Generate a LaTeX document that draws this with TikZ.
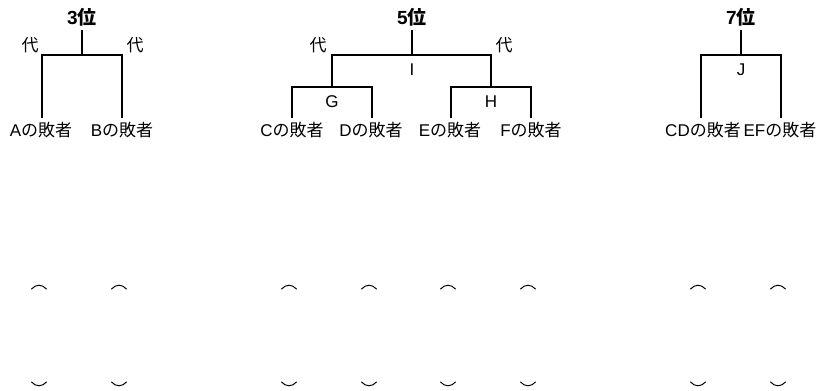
\documentclass[tikz,border=0pt]{standalone}
\usepackage{fontspec}
\setmainfont{Noto Sans CJK JP}
\newfontfamily\lat{Liberation Sans}
\newcommand{\fs}{\fontsize{17}{20}\selectfont}
\newcommand{\fst}{\fontsize{19}{22}\selectfont}
\begin{document}
\begin{tikzpicture}[x=1pt,y=-1pt,
  br/.style={line width=2pt},
  lab/.style={font=\fs, inner sep=0pt},
  ttl/.style={font=\fst\bfseries, inner sep=0pt},
  arcst/.style={line width=1pt, line cap=round}]
\useasboundingbox (0,0) rectangle (817,391);
% ---------- 3位 ----------
\node[ttl] (t3) at (82,17) {{\lat\bfseries 3}位};
\node[lab] (d3l) at (30,45) {代};
\node[lab] (d3r) at (135,45) {代};
\node[lab] (la) at (41,130) {{\lat A}の敗者};
\node[lab] (lb) at (122,130) {{\lat B}の敗者};
\coordinate (s3) at (82,30);
\coordinate (j3) at (82,55);
\coordinate (ea) at (42,118);
\coordinate (eb) at (122,118);
\draw[br] (s3) -- (j3);
\draw[br] (ea) |- (j3) -| (eb);
% ---------- 5位 ----------
\node[ttl] (t5) at (412,17) {{\lat\bfseries 5}位};
\node[lab] (d5l) at (318,45) {代};
\node[lab] (d5r) at (504,45) {代};
\node[lab] (nI) at (412,70) {\lat I};
\node[lab] (nG) at (332,102) {\lat G};
\node[lab] (nH) at (491,102) {\lat H};
\node[lab] (lc) at (292,130) {{\lat C}の敗者};
\node[lab] (ld) at (371,130) {{\lat D}の敗者};
\node[lab] (le) at (450,130) {{\lat E}の敗者};
\node[lab] (lf) at (531,130) {{\lat F}の敗者};
\coordinate (s5) at (412,30);
\coordinate (j5) at (412,55);
\coordinate (jg) at (332,87);
\coordinate (jh) at (491,87);
\coordinate (ec) at (292,118);
\coordinate (ed) at (372,118);
\coordinate (ee) at (451,118);
\coordinate (ef) at (531,118);
\draw[br] (s5) -- (j5);
\draw[br] (jg) |- (j5) -| (jh);
\draw[br] (ec) |- (jg) -| (ed);
\draw[br] (ee) |- (jh) -| (ef);
% ---------- 7位 ----------
\node[ttl] (t7) at (741,17) {{\lat\bfseries 7}位};
\node[lab] (nJ) at (741,70) {\lat J};
\node[lab] (lcd) at (703,130) {{\lat CD}の敗者};
\node[lab] (lef) at (780,130) {{\lat EF}の敗者};
\coordinate (s7) at (741,30);
\coordinate (j7) at (741,55);
\coordinate (ecd) at (701,118);
\coordinate (eef) at (781,118);
\draw[br] (s7) -- (j7);
\draw[br] (ecd) |- (j7) -| (eef);
% ---------- arcs ----------
\foreach \x in {39,119,289,369,448,528,698,778}{
  \draw[arcst] (\x-7.5,289) .. controls (\x-3,284) and (\x+3,284) .. (\x+7.5,289);
  \draw[arcst] (\x-7.5,382) .. controls (\x-3,387) and (\x+3,387) .. (\x+7.5,382);
}
\end{tikzpicture}
\end{document}
